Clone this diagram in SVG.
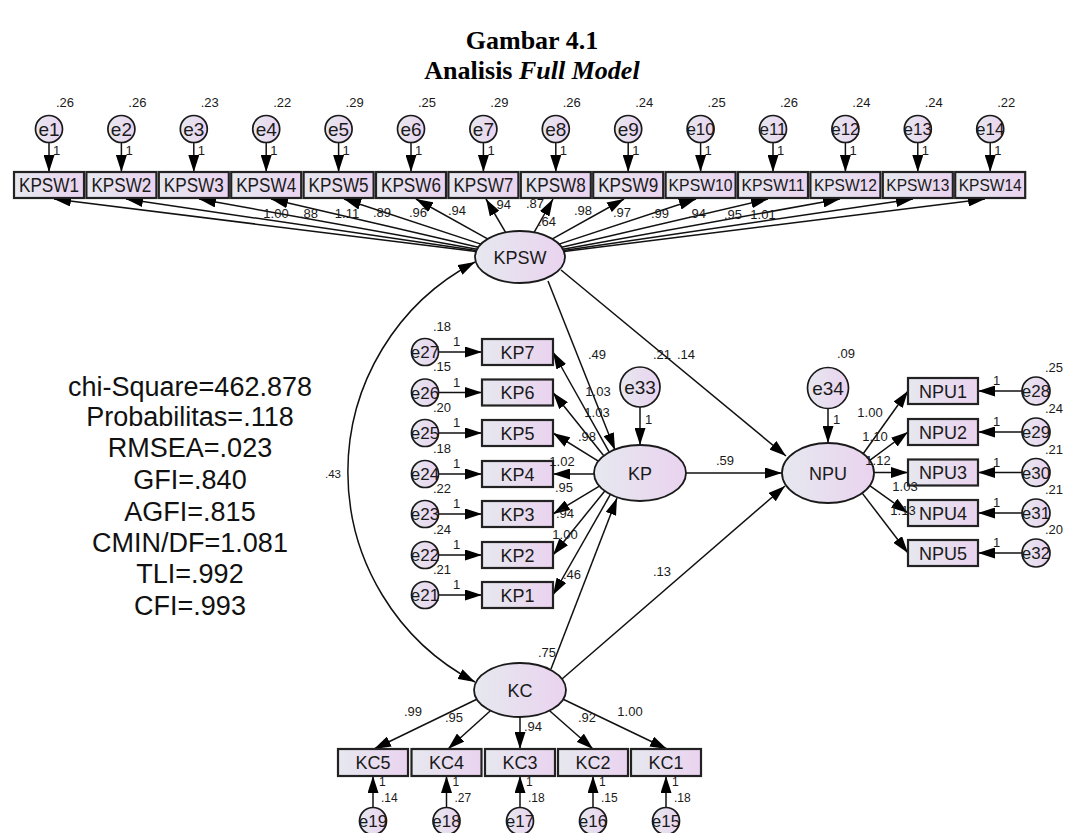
<svg xmlns="http://www.w3.org/2000/svg" width="1069" height="833" viewBox="0 0 1069 833">
<defs>
<linearGradient id="g" x1="0" y1="0" x2="1" y2="0"><stop offset="0" stop-color="#e6e8ef"/><stop offset="1" stop-color="#ead3ef"/></linearGradient>
<marker id="ah" viewBox="0 0 17 11" refX="17" refY="5.5" markerWidth="17" markerHeight="11" markerUnits="userSpaceOnUse" orient="auto-start-reverse"><path d="M0,0 L17,5.5 L0,11 z" fill="#000"/></marker>
<style>
.box{fill:url(#g);stroke:#222;stroke-width:2.2}
.lat{fill:url(#g);stroke:#1a1a1a;stroke-width:1.8}
.err{fill:url(#g);stroke:#1a1a1a;stroke-width:1.7}
text{font-family:"Liberation Sans",Arial,sans-serif;fill:#1a1a1a}
.t{font-size:18px;text-anchor:middle}
.tk{font-size:19.5px;text-anchor:middle}
.ts{font-size:17px;text-anchor:middle}
.te{font-size:19px;text-anchor:middle}
.te2{font-size:17px;text-anchor:middle}
.n{font-size:13px;text-anchor:middle}
.o{font-size:13px}
.ob{font-size:12px}
.st{font-size:27px;text-anchor:middle;fill:#111}
.ti{font-family:"Liberation Serif","Times New Roman",serif;font-weight:bold;font-size:26px;text-anchor:middle;fill:#000}
#conn line,#conn path{stroke:#111;stroke-width:1.5;fill:none;marker-end:url(#ah)}
</style>
</defs>
<rect width="1069" height="833" fill="#fff"/>
<text class="ti" x="532" y="49">Gambar 4.1</text>
<text class="ti" x="532" y="79">Analisis <tspan font-style="italic">Full Model</tspan></text>

<g id="conn">
<line x1="476" y1="251.5" x2="54" y2="199"/>
<line x1="476.4" y1="250.6" x2="126" y2="199"/>
<line x1="477.1" y1="249.2" x2="199" y2="199"/>
<line x1="478.3" y1="247.3" x2="271" y2="199"/>
<line x1="480.9" y1="244.1" x2="344" y2="199"/>
<line x1="487.6" y1="238.9" x2="416" y2="199"/>
<line x1="505.6" y1="232.4" x2="486" y2="199"/>
<line x1="534.1" y1="232.3" x2="553" y2="199"/>
<line x1="552.4" y1="238.9" x2="624" y2="199"/>
<line x1="559.1" y1="244.1" x2="696" y2="199"/>
<line x1="561.7" y1="247.3" x2="768" y2="199"/>
<line x1="562.9" y1="249.2" x2="840" y2="199"/>
<line x1="563.6" y1="250.6" x2="913" y2="199"/>
<line x1="564" y1="251.5" x2="985" y2="199"/>
<line x1="49" y1="142.5" x2="49" y2="172"/>
<line x1="121.4" y1="142.5" x2="121.4" y2="172"/>
<line x1="193.8" y1="142.5" x2="193.8" y2="172"/>
<line x1="266.2" y1="142.5" x2="266.2" y2="172"/>
<line x1="338.6" y1="142.5" x2="338.6" y2="172"/>
<line x1="411" y1="142.5" x2="411" y2="172"/>
<line x1="483.4" y1="142.5" x2="483.4" y2="172"/>
<line x1="555.8" y1="142.5" x2="555.8" y2="172"/>
<line x1="628.2" y1="142.5" x2="628.2" y2="172"/>
<line x1="700.6" y1="142.5" x2="700.6" y2="172"/>
<line x1="773" y1="142.5" x2="773" y2="172"/>
<line x1="845.4" y1="142.5" x2="845.4" y2="172"/>
<line x1="917.8" y1="142.5" x2="917.8" y2="172"/>
<line x1="990.2" y1="142.5" x2="990.2" y2="172"/>
<path d="M 475 262 A 237 237 0 0 0 475 682" marker-start="url(#ah)"/>
<line x1="548" y1="281" x2="615" y2="450"/>
<line x1="561" y1="270" x2="786" y2="456"/>
<line x1="686" y1="473" x2="782" y2="473"/>
<line x1="551" y1="669" x2="617" y2="498"/>
<line x1="562" y1="679" x2="785" y2="486"/>
<line x1="609.2" y1="452.2" x2="553" y2="352"/>
<line x1="603.8" y1="455.8" x2="553" y2="392.5"/>
<line x1="598.3" y1="461.2" x2="553" y2="433"/>
<line x1="594" y1="474" x2="553" y2="474"/>
<line x1="599.4" y1="486.1" x2="553" y2="514"/>
<line x1="604.8" y1="491" x2="553" y2="555"/>
<line x1="610.4" y1="494.4" x2="553" y2="595"/>
<line x1="438.5" y1="352" x2="482" y2="352"/>
<line x1="438.5" y1="392.5" x2="482" y2="392.5"/>
<line x1="438.5" y1="433" x2="482" y2="433"/>
<line x1="438.5" y1="474" x2="482" y2="474"/>
<line x1="438.5" y1="514" x2="482" y2="514"/>
<line x1="438.5" y1="555" x2="482" y2="555"/>
<line x1="438.5" y1="595" x2="482" y2="595"/>
<line x1="640" y1="407" x2="640" y2="445"/>
<line x1="863.2" y1="453.7" x2="908" y2="391"/>
<line x1="869.7" y1="460.3" x2="908" y2="432"/>
<line x1="874" y1="472.5" x2="908" y2="472.5"/>
<line x1="869.7" y1="485.7" x2="908" y2="513"/>
<line x1="862.2" y1="493.1" x2="908" y2="553"/>
<line x1="1022" y1="391" x2="978" y2="391"/>
<line x1="1022" y1="432" x2="978" y2="432"/>
<line x1="1022" y1="472.5" x2="978" y2="472.5"/>
<line x1="1022" y1="513" x2="978" y2="513"/>
<line x1="1022" y1="553" x2="978" y2="553"/>
<line x1="828" y1="409" x2="828" y2="443"/>
<line x1="476.8" y1="699.2" x2="374" y2="749"/>
<line x1="490.4" y1="710.7" x2="448" y2="749"/>
<line x1="520" y1="717" x2="520" y2="749"/>
<line x1="549.6" y1="710.7" x2="593" y2="749"/>
<line x1="563.2" y1="699.2" x2="667" y2="749"/>
<line x1="373" y1="807.5" x2="373" y2="776"/>
<line x1="446.5" y1="807.5" x2="446.5" y2="776"/>
<line x1="520" y1="807.5" x2="520" y2="776"/>
<line x1="593" y1="807.5" x2="593" y2="776"/>
<line x1="666" y1="807.5" x2="666" y2="776"/>
</g>

<g id="KPSW1"><rect class="box" x="14" y="172" width="70" height="26"/><text class="tk" x="49" y="192" textLength="60" lengthAdjust="spacingAndGlyphs">KPSW1</text></g>
<g id="KPSW2"><rect class="box" x="86.4" y="172" width="70" height="26"/><text class="tk" x="121.4" y="192" textLength="60" lengthAdjust="spacingAndGlyphs">KPSW2</text></g>
<g id="KPSW3"><rect class="box" x="158.8" y="172" width="70" height="26"/><text class="tk" x="193.8" y="192" textLength="60" lengthAdjust="spacingAndGlyphs">KPSW3</text></g>
<g id="KPSW4"><rect class="box" x="231.2" y="172" width="70" height="26"/><text class="tk" x="266.2" y="192" textLength="60" lengthAdjust="spacingAndGlyphs">KPSW4</text></g>
<g id="KPSW5"><rect class="box" x="303.6" y="172" width="70" height="26"/><text class="tk" x="338.6" y="192" textLength="60" lengthAdjust="spacingAndGlyphs">KPSW5</text></g>
<g id="KPSW6"><rect class="box" x="376" y="172" width="70" height="26"/><text class="tk" x="411" y="192" textLength="60" lengthAdjust="spacingAndGlyphs">KPSW6</text></g>
<g id="KPSW7"><rect class="box" x="448.4" y="172" width="70" height="26"/><text class="tk" x="483.4" y="192" textLength="60" lengthAdjust="spacingAndGlyphs">KPSW7</text></g>
<g id="KPSW8"><rect class="box" x="520.8" y="172" width="70" height="26"/><text class="tk" x="555.8" y="192" textLength="60" lengthAdjust="spacingAndGlyphs">KPSW8</text></g>
<g id="KPSW9"><rect class="box" x="593.2" y="172" width="70" height="26"/><text class="tk" x="628.2" y="192" textLength="60" lengthAdjust="spacingAndGlyphs">KPSW9</text></g>
<g id="KPSW10"><rect class="box" x="665.6" y="172" width="70" height="26"/><text class="ts" x="700.6" y="191" textLength="64" lengthAdjust="spacingAndGlyphs">KPSW10</text></g>
<g id="KPSW11"><rect class="box" x="738" y="172" width="70" height="26"/><text class="ts" x="773" y="191" textLength="63" lengthAdjust="spacingAndGlyphs">KPSW11</text></g>
<g id="KPSW12"><rect class="box" x="810.4" y="172" width="70" height="26"/><text class="ts" x="845.4" y="191" textLength="63" lengthAdjust="spacingAndGlyphs">KPSW12</text></g>
<g id="KPSW13"><rect class="box" x="882.8" y="172" width="70" height="26"/><text class="ts" x="917.8" y="191" textLength="63" lengthAdjust="spacingAndGlyphs">KPSW13</text></g>
<g id="KPSW14"><rect class="box" x="955.2" y="172" width="70" height="26"/><text class="ts" x="990.2" y="191" textLength="63" lengthAdjust="spacingAndGlyphs">KPSW14</text></g>

<g id="e1"><circle class="err" cx="49" cy="129" r="13.5"/><text class="te" x="49" y="136">e1</text><text class="n" x="65" y="107">.26</text><text class="o" x="53" y="155">1</text></g>
<g id="e2"><circle class="err" cx="121.4" cy="129" r="13.5"/><text class="te" x="121.4" y="136">e2</text><text class="n" x="137.4" y="107">.26</text><text class="o" x="125.4" y="155">1</text></g>
<g id="e3"><circle class="err" cx="193.8" cy="129" r="13.5"/><text class="te" x="193.8" y="136">e3</text><text class="n" x="209.8" y="107">.23</text><text class="o" x="197.8" y="155">1</text></g>
<g id="e4"><circle class="err" cx="266.2" cy="129" r="13.5"/><text class="te" x="266.2" y="136">e4</text><text class="n" x="282.2" y="107">.22</text><text class="o" x="270.2" y="155">1</text></g>
<g id="e5"><circle class="err" cx="338.6" cy="129" r="13.5"/><text class="te" x="338.6" y="136">e5</text><text class="n" x="354.6" y="107">.29</text><text class="o" x="342.6" y="155">1</text></g>
<g id="e6"><circle class="err" cx="411" cy="129" r="13.5"/><text class="te" x="411" y="136">e6</text><text class="n" x="427" y="107">.25</text><text class="o" x="415" y="155">1</text></g>
<g id="e7"><circle class="err" cx="483.4" cy="129" r="13.5"/><text class="te" x="483.4" y="136">e7</text><text class="n" x="499.4" y="107">.29</text><text class="o" x="487.4" y="155">1</text></g>
<g id="e8"><circle class="err" cx="555.8" cy="129" r="13.5"/><text class="te" x="555.8" y="136">e8</text><text class="n" x="571.8" y="107">.26</text><text class="o" x="559.8" y="155">1</text></g>
<g id="e9"><circle class="err" cx="628.2" cy="129" r="13.5"/><text class="te" x="628.2" y="136">e9</text><text class="n" x="644.2" y="107">.24</text><text class="o" x="632.2" y="155">1</text></g>
<g id="e10"><circle class="err" cx="700.6" cy="129" r="13.5"/><text class="te2" x="700.6" y="135">e10</text><text class="n" x="716.6" y="107">.25</text><text class="o" x="704.6" y="155">1</text></g>
<g id="e11"><circle class="err" cx="773" cy="129" r="13.5"/><text class="te2" x="773" y="135">e11</text><text class="n" x="789" y="107">.26</text><text class="o" x="777" y="155">1</text></g>
<g id="e12"><circle class="err" cx="845.4" cy="129" r="13.5"/><text class="te2" x="845.4" y="135">e12</text><text class="n" x="861.4" y="107">.24</text><text class="o" x="849.4" y="155">1</text></g>
<g id="e13"><circle class="err" cx="917.8" cy="129" r="13.5"/><text class="te2" x="917.8" y="135">e13</text><text class="n" x="933.8" y="107">.24</text><text class="o" x="921.8" y="155">1</text></g>
<g id="e14"><circle class="err" cx="990.2" cy="129" r="13.5"/><text class="te2" x="990.2" y="135">e14</text><text class="n" x="1006.2" y="107">.22</text><text class="o" x="994.2" y="155">1</text></g>

<g id="kpsw-loadings">
<text class="n" x="276" y="218">1.00</text><text class="n" x="309" y="218">.88</text><text class="n" x="347" y="218">1.11</text>
<text class="n" x="382" y="217">.89</text><text class="n" x="418" y="217">.96</text><text class="n" x="457" y="215">.94</text>
<text class="n" x="502" y="209">.94</text><text class="n" x="535" y="208">.87</text><text class="n" x="547" y="226">.64</text>
<text class="n" x="583" y="215">.98</text><text class="n" x="622" y="217">.97</text><text class="n" x="660" y="218">.99</text>
<text class="n" x="697" y="218">.94</text><text class="n" x="733" y="219">.95</text><text class="n" x="763" y="219">1.01</text>
</g>

<g id="KPSW"><ellipse class="lat" cx="520" cy="257" rx="45" ry="26"/><text class="t" x="520" y="263.5">KPSW</text></g>
<g id="KP"><ellipse class="lat" cx="640" cy="473" rx="46" ry="28"/><text class="t" x="640" y="479.5">KP</text></g>
<g id="NPU"><ellipse class="lat" cx="828" cy="473" rx="46" ry="30"/><text class="t" x="828" y="479.5">NPU</text></g>
<g id="KC"><ellipse class="lat" cx="520" cy="690" rx="46" ry="27"/><text class="t" x="520" y="696.5">KC</text></g>

<g id="e33"><circle class="err" cx="640" cy="387" r="20"/><text class="te" x="640" y="394">e33</text><text class="o" x="645" y="424">1</text></g>
<g id="e34"><circle class="err" cx="828" cy="388" r="20.5"/><text class="te" x="828" y="395">e34</text><text class="n" x="846" y="358">.09</text><text class="o" x="833" y="424">1</text></g>

<g id="struct-labels">
<text x="333" y="478" style="font-size:11.5px;text-anchor:middle">.43</text>
<text class="n" x="597" y="359">.49</text><text class="n" x="662" y="359">.21</text><text class="n" x="686" y="359">.14</text>
<text class="n" x="725" y="465">.59</text><text class="n" x="547" y="657">.75</text><text class="n" x="662" y="576">.13</text>
</g>

<g id="KP7"><rect class="box" x="482" y="339" width="71" height="26"/><text class="t" x="517.5" y="358.5">KP7</text></g>
<g id="KP6"><rect class="box" x="482" y="379.5" width="71" height="26"/><text class="t" x="517.5" y="399">KP6</text></g>
<g id="KP5"><rect class="box" x="482" y="420" width="71" height="26"/><text class="t" x="517.5" y="439.5">KP5</text></g>
<g id="KP4"><rect class="box" x="482" y="461" width="71" height="26"/><text class="t" x="517.5" y="480.5">KP4</text></g>
<g id="KP3"><rect class="box" x="482" y="501" width="71" height="26"/><text class="t" x="517.5" y="520.5">KP3</text></g>
<g id="KP2"><rect class="box" x="482" y="542" width="71" height="26"/><text class="t" x="517.5" y="561.5">KP2</text></g>
<g id="KP1"><rect class="box" x="482" y="582" width="71" height="26"/><text class="t" x="517.5" y="601.5">KP1</text></g>

<g id="kp-loadings">
<text class="n" x="598" y="396">1.03</text><text class="n" x="597" y="417">1.03</text><text class="n" x="587" y="441">.98</text>
<text class="n" x="562" y="466">1.02</text><text class="n" x="564" y="492">.95</text><text class="n" x="565" y="518">.94</text>
<text class="n" x="565" y="539">1.00</text><text class="n" x="572" y="579">.46</text>
</g>

<g id="e27"><circle class="err" cx="425" cy="352" r="13.5"/><text class="te2" x="425" y="358">e27</text><text class="n" x="442" y="330.5">.18</text><text class="o" x="453" y="346">1</text></g>
<g id="e26"><circle class="err" cx="425" cy="392.5" r="13.5"/><text class="te2" x="425" y="398.5">e26</text><text class="n" x="442" y="371">.15</text><text class="o" x="453" y="386.5">1</text></g>
<g id="e25"><circle class="err" cx="425" cy="433" r="13.5"/><text class="te2" x="425" y="439">e25</text><text class="n" x="442" y="411.5">.20</text><text class="o" x="453" y="427">1</text></g>
<g id="e24"><circle class="err" cx="425" cy="474" r="13.5"/><text class="te2" x="425" y="480">e24</text><text class="n" x="442" y="452.5">.18</text><text class="o" x="453" y="468">1</text></g>
<g id="e23"><circle class="err" cx="425" cy="514" r="13.5"/><text class="te2" x="425" y="520">e23</text><text class="n" x="442" y="492.5">.22</text><text class="o" x="453" y="508">1</text></g>
<g id="e22"><circle class="err" cx="425" cy="555" r="13.5"/><text class="te2" x="425" y="561">e22</text><text class="n" x="442" y="533.5">.24</text><text class="o" x="453" y="549">1</text></g>
<g id="e21"><circle class="err" cx="425" cy="595" r="13.5"/><text class="te2" x="425" y="601">e21</text><text class="n" x="442" y="573.5">.21</text><text class="o" x="453" y="589">1</text></g>

<g id="NPU1"><rect class="box" x="908" y="378" width="70" height="26"/><text class="t" x="943" y="397.5">NPU1</text></g>
<g id="NPU2"><rect class="box" x="908" y="419" width="70" height="26"/><text class="t" x="943" y="438.5">NPU2</text></g>
<g id="NPU3"><rect class="box" x="908" y="459.5" width="70" height="26"/><text class="t" x="943" y="479">NPU3</text></g>
<g id="NPU4"><rect class="box" x="908" y="500" width="70" height="26"/><text class="t" x="943" y="519.5">NPU4</text></g>
<g id="NPU5"><rect class="box" x="908" y="540" width="70" height="26"/><text class="t" x="943" y="559.5">NPU5</text></g>

<g id="npu-loadings">
<text class="n" x="870" y="417">1.00</text><text class="n" x="875" y="441">1.10</text><text class="n" x="878" y="465">1.12</text>
<text class="n" x="905" y="491">1.03</text><text class="n" x="903" y="515">1.13</text>
</g>

<g id="e28"><circle class="err" cx="1036" cy="391" r="14"/><text class="te2" x="1036" y="397">e28</text><text class="n" x="1054" y="372">.25</text><text class="o" x="993" y="385">1</text></g>
<g id="e29"><circle class="err" cx="1036" cy="432" r="14"/><text class="te2" x="1036" y="438">e29</text><text class="n" x="1054" y="413">.24</text><text class="o" x="993" y="426">1</text></g>
<g id="e30"><circle class="err" cx="1036" cy="472.5" r="14"/><text class="te2" x="1036" y="478.5">e30</text><text class="n" x="1054" y="453.5">.21</text><text class="o" x="993" y="466.5">1</text></g>
<g id="e31"><circle class="err" cx="1036" cy="513" r="14"/><text class="te2" x="1036" y="519">e31</text><text class="n" x="1054" y="494">.21</text><text class="o" x="993" y="507">1</text></g>
<g id="e32"><circle class="err" cx="1036" cy="553" r="14"/><text class="te2" x="1036" y="559">e32</text><text class="n" x="1054" y="534">.20</text><text class="o" x="993" y="547">1</text></g>

<g id="KC5"><rect class="box" x="338" y="749" width="70" height="27"/><text class="t" x="373" y="769">KC5</text></g>
<g id="KC4"><rect class="box" x="411.5" y="749" width="70" height="27"/><text class="t" x="446.5" y="769">KC4</text></g>
<g id="KC3"><rect class="box" x="485" y="749" width="70" height="27"/><text class="t" x="520" y="769">KC3</text></g>
<g id="KC2"><rect class="box" x="558" y="749" width="70" height="27"/><text class="t" x="593" y="769">KC2</text></g>
<g id="KC1"><rect class="box" x="631" y="749" width="70" height="27"/><text class="t" x="666" y="769">KC1</text></g>

<g id="kc-loadings">
<text class="n" x="413" y="716">.99</text><text class="n" x="454" y="722">.95</text><text class="n" x="533" y="731">.94</text>
<text class="n" x="587" y="722">.92</text><text class="n" x="630" y="716">1.00</text>
</g>

<g id="e19"><circle class="err" cx="373" cy="821" r="13.5"/><text class="te2" x="373" y="827">e19</text><text class="ob" x="379" y="786">1</text><text class="ob" x="381" y="802">.14</text></g>
<g id="e18"><circle class="err" cx="446.5" cy="821" r="13.5"/><text class="te2" x="446.5" y="827">e18</text><text class="ob" x="452.5" y="786">1</text><text class="ob" x="454.5" y="802">.27</text></g>
<g id="e17"><circle class="err" cx="520" cy="821" r="13.5"/><text class="te2" x="520" y="827">e17</text><text class="ob" x="526" y="786">1</text><text class="ob" x="528" y="802">.18</text></g>
<g id="e16"><circle class="err" cx="593" cy="821" r="13.5"/><text class="te2" x="593" y="827">e16</text><text class="ob" x="599" y="786">1</text><text class="ob" x="601" y="802">.15</text></g>
<g id="e15"><circle class="err" cx="666" cy="821" r="13.5"/><text class="te2" x="666" y="827">e15</text><text class="ob" x="672" y="786">1</text><text class="ob" x="674" y="802">.18</text></g>

<g id="fit-stats">
<text class="st" x="190" y="396">chi-Square=462.878</text>
<text class="st" x="190" y="426">Probabilitas=.118</text>
<text class="st" x="190" y="457">RMSEA=.023</text>
<text class="st" x="190" y="489">GFI=.840</text>
<text class="st" x="190" y="521">AGFI=.815</text>
<text class="st" x="190" y="552">CMIN/DF=1.081</text>
<text class="st" x="190" y="583">TLI=.992</text>
<text class="st" x="190" y="615">CFI=.993</text>
</g>
</svg>
